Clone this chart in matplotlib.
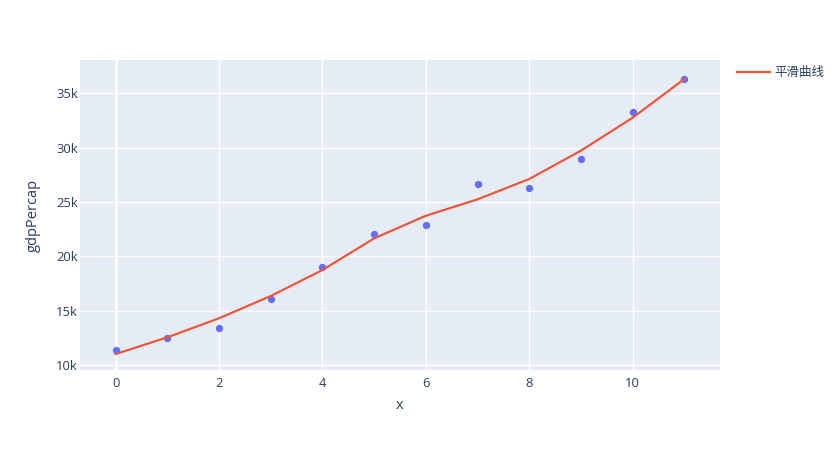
import numpy as np
import matplotlib
matplotlib.use("Agg")
import matplotlib.pyplot as plt
from matplotlib.ticker import FuncFormatter

plt.rcParams['font.family'] = ['Open Sans', 'Noto Sans CJK SC', 'DejaVu Sans']

# data
x = list(range(12))
gdp = [11350, 12480, 13430, 16070, 18990, 22080, 22910, 26620, 26310, 28950, 33300, 36310]
smooth = [11010, 12550, 14300, 16350, 18740, 21650, 23730, 25240, 27110, 29720, 32750, 36310]
line_name = "平滑曲线"

fig = plt.figure(figsize=(8.39, 4.5), dpi=100)
ax = fig.add_axes([80/839, 80/450, 640/839, 310/450])
ax.set_facecolor('#E5ECF6')

ax.scatter(x, gdp, s=28, color='#636EFA', zorder=3, linewidths=0)
ax.plot(x, smooth, color='#EF553B', lw=1.6, label=line_name, zorder=4)

ax.set_xlim(-0.69, 11.69)
ax.set_ylim(9540, 38060)
ax.set_xticks([0, 2, 4, 6, 8, 10])
ax.set_yticks([10000, 15000, 20000, 25000, 30000, 35000])
ax.yaxis.set_major_formatter(FuncFormatter(lambda v, p: f"{int(v/1000)}k"))
ax.grid(True, color='white', lw=1)
ax.axvline(0, color='white', lw=2, zorder=1)
ax.set_axisbelow(True)
for s in ax.spines.values():
    s.set_visible(False)
ax.tick_params(axis='x', length=0, labelsize=9.4, colors='#2a3f5f', pad=5)
ax.tick_params(axis='y', length=0, labelsize=9.4, colors='#2a3f5f', pad=1.5)

ax.set_xlabel("x", fontsize=10.5, color='#2a3f5f', va='center')
ax.set_ylabel("gdpPercap", fontsize=10.5, color='#2a3f5f', va='center')
ax.xaxis.set_label_coords(0.5, -0.113)
ax.yaxis.set_label_coords(-0.0734, 0.5)

leg = ax.legend(loc='upper left', bbox_to_anchor=(737/839, 1 - 66/450),
                bbox_transform=fig.transFigure, frameon=False,
                fontsize=9, handlelength=2.6, handletextpad=0.35,
                borderpad=0, borderaxespad=0, labelcolor='#2a3f5f')

fig.savefig("out.png", dpi=100)
